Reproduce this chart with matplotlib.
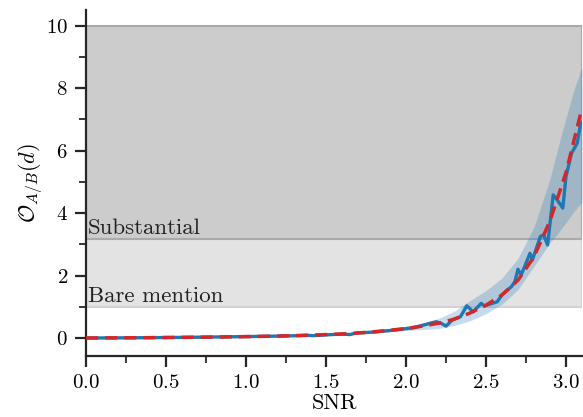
import numpy as np
import matplotlib
matplotlib.use("Agg")
import matplotlib.pyplot as plt

plt.rcParams["font.family"] = "serif"
plt.rcParams["font.serif"] = ["cmr10"]
plt.rcParams["mathtext.fontset"] = "cm"
plt.rcParams["axes.formatter.use_mathtext"] = True

# analytic odds ratio vs SNR
snr_model = [0.0, 0.1, 0.2, 0.3, 0.4, 0.5, 0.6, 0.7, 0.8, 0.9, 1.0, 1.1, 1.2, 1.3,
             1.4, 1.5, 1.6, 1.7, 1.8, 1.9, 2.0, 2.1, 2.2, 2.3, 2.4, 2.5, 2.6, 2.7,
             2.8, 2.9, 3.0, 3.1]
odds_model = [0.0, 0.002, 0.005, 0.008, 0.012, 0.016, 0.02, 0.025, 0.03, 0.037,
              0.045, 0.053, 0.062, 0.075, 0.09, 0.11, 0.13, 0.16, 0.2, 0.25, 0.3,
              0.38, 0.47, 0.6, 0.8, 1.05, 1.38, 1.85, 2.6, 3.75, 5.3, 7.36]

# sampled estimate
snr_samp = [0.0, 0.25, 0.5, 0.75, 1.0, 1.25, 1.38, 1.42, 1.5, 1.6, 1.65, 1.69, 1.8,
            1.9, 2.0, 2.05, 2.1, 2.15, 2.19, 2.22, 2.25, 2.29, 2.34, 2.38, 2.42,
            2.47, 2.49, 2.57, 2.6, 2.66, 2.68, 2.70, 2.72, 2.775, 2.79, 2.84, 2.86,
            2.885, 2.92, 2.945, 2.98, 3.0, 3.035, 3.07, 3.09, 3.1]
odds_samp = [0.0, 0.005, 0.015, 0.028, 0.045, 0.065, 0.085, 0.075, 0.1, 0.125, 0.11,
             0.16, 0.19, 0.24, 0.3, 0.33, 0.4, 0.47, 0.52, 0.47, 0.38, 0.58, 0.68,
             1.03, 0.84, 1.11, 1.03, 1.16, 1.38, 1.65, 1.8, 2.2, 2.02, 2.71, 2.5,
             3.25, 3.3, 2.98, 4.58, 4.42, 4.16, 5.17, 5.92, 6.24, 6.83, 6.9]

# spread of the sampled estimate
snr_band = [0.0, 1.0, 1.5, 1.8, 1.9, 2.0, 2.1, 2.2, 2.3, 2.4, 2.5, 2.6, 2.7, 2.8,
            2.9, 2.95, 3.0, 3.05, 3.1]
band_lo = [0.0, 0.04, 0.09, 0.16, 0.2, 0.24, 0.27, 0.3, 0.4, 0.55, 0.78, 1.08,
           1.55, 2.3, 3.05, 3.35, 3.7, 4.05, 4.35]
band_hi = [0.0, 0.05, 0.12, 0.24, 0.3, 0.38, 0.48, 0.62, 0.85, 1.2, 1.52, 1.92,
           2.55, 3.55, 5.1, 6.1, 7.05, 7.95, 8.7]

# Jeffreys scale thresholds
bare_lo, subst_lo, top = 1.0, 3.16, 10.0

fig = plt.figure(figsize=(5.83, 4.17), dpi=100)
ax = fig.add_axes([0.1475, 0.146, 0.8508, 0.83])

ax.axhspan(bare_lo, subst_lo, facecolor="#e3e3e3", edgecolor="#d3d3d3", lw=1.5, zorder=0)
ax.axhspan(subst_lo, top, facecolor="#cccccc", edgecolor="#aaaaaa", lw=1.5, zorder=0)
ax.text(0.01, subst_lo + 0.03, "Substantial", fontsize=16.5, va="bottom", ha="left", color="#222222")
ax.text(0.01, bare_lo + 0.03, "Bare mention", fontsize=16.5, va="bottom", ha="left", color="#222222")

ax.fill_between(snr_band, band_lo, band_hi, color="#1f77b4", alpha=0.25, lw=0, zorder=1)
ax.plot(snr_samp, odds_samp, color="#1f77b4", lw=2.4, zorder=2)
ax.plot(snr_model, odds_model, color="#d62728", lw=2.5, ls=(0, (3.5, 2)), zorder=3)

ax.set_xlim(0, 3.1)
ax.set_ylim(-0.58, 10.5)
ax.set_xticks(np.arange(0, 3.01, 0.5))
ax.set_xticks(np.arange(0.25, 3.1, 0.5), minor=True)
ax.set_yticks([0, 2, 4, 6, 8, 10])
ax.set_yticks([1, 3, 5, 7, 9], minor=True)
ax.set_xlabel("SNR", fontsize=16, labelpad=1)
ax.set_ylabel(r"$\mathcal{O}_{A/B}(d)$", fontsize=16, labelpad=1)

for side in ["top", "right"]:
    ax.spines[side].set_visible(False)
for side in ["left", "bottom"]:
    ax.spines[side].set_linewidth(1.6)
    ax.spines[side].set_color("#262626")
ax.tick_params(which="major", length=8, width=1.6, color="#262626", labelsize=15, pad=5)
ax.tick_params(which="minor", length=5, width=1.3, color="#262626")

fig.savefig("out.png", dpi=100)
